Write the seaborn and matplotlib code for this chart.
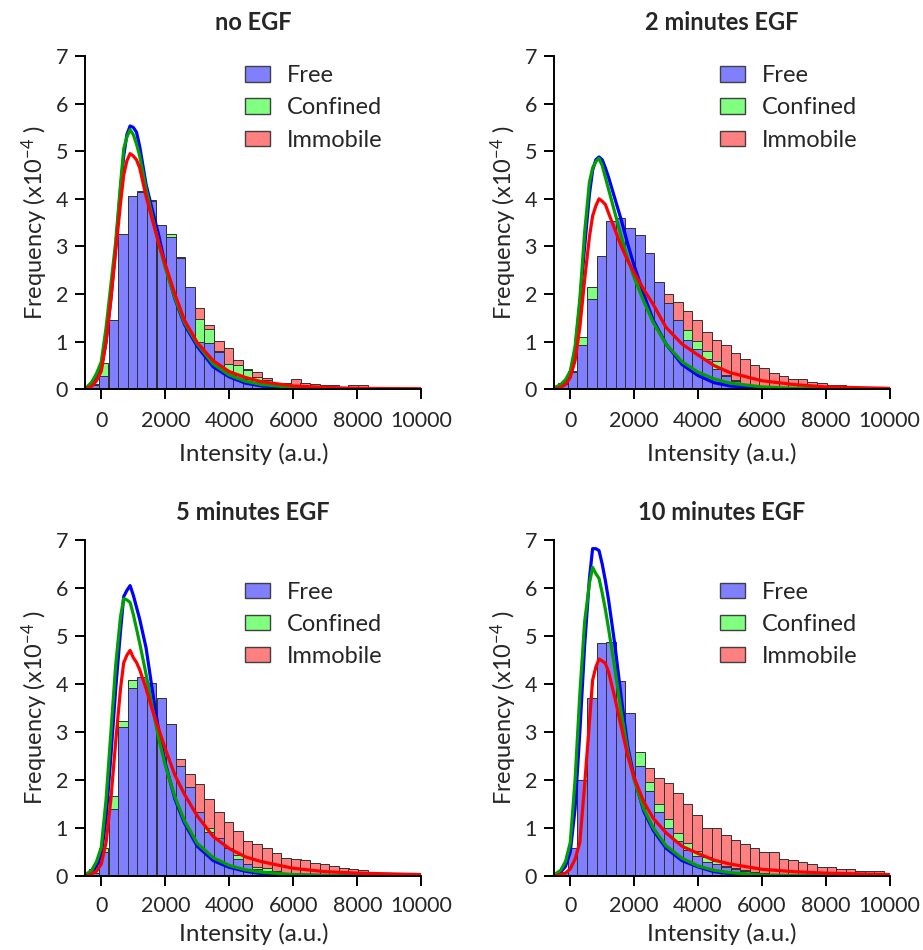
import numpy as np
import pandas as pd
import matplotlib
matplotlib.use("Agg")
import matplotlib.pyplot as plt
import seaborn as sns
from matplotlib.patches import Patch

# ---------------- data ----------------
titles = ["no EGF", "2 minutes EGF", "5 minutes EGF", "10 minutes EGF"]
series = ["Free", "Confined", "Immobile"]

# histogram bins (width 300)
bin_edges = [-375 + 300 * k for k in range(35)]
bin_centers = [-225 + 300 * k for k in range(34)]

# histogram heights (x10^-4), one list per panel and population
free_noegf = [0.10, 0.28, 1.45, 3.27, 4.07, 4.15, 3.95, 3.45, 3.20, 2.75, 2.14, 0.99, 0.97, 0.79, 0.38, 0.31, 0.21,
              0.15, 0.10, 0.12, 0.12, 0.06, 0.05, 0.04, 0.03, 0.03, 0.02, 0.02, 0.01, 0.01, 0.01, 0.01, 0.005, 0.005]
conf_noegf = [0.12, 0.56, 1.30, 3.00, 3.90, 4.10, 3.80, 3.40, 3.26, 2.77, 2.00, 1.48, 1.27, 0.80, 0.54, 0.50, 0.40,
              0.26, 0.20, 0.10, 0.08, 0.06, 0.05, 0.04, 0.03, 0.03, 0.02, 0.02, 0.01, 0.01, 0.01, 0.01, 0.005, 0.005]
immo_noegf = [0.05, 0.20, 1.20, 3.00, 3.90, 4.17, 3.97, 3.30, 3.00, 2.60, 2.00, 1.71, 1.34, 1.01, 0.87, 0.61, 0.42,
              0.36, 0.24, 0.14, 0.14, 0.22, 0.14, 0.12, 0.10, 0.09, 0.05, 0.08, 0.08, 0.05, 0.04, 0.03, 0.02, 0.02]

free_2min = [0.12, 0.36, 0.92, 1.89, 2.81, 3.54, 3.60, 3.38, 3.24, 2.86, 2.26, 1.81, 1.46, 1.04, 0.84, 0.64, 0.42,
             0.28, 0.17, 0.10, 0.07, 0.05, 0.04, 0.03, 0.02, 0.02, 0.01, 0.01, 0.01, 0.01, 0.01, 0.01, 0.01, 0.01]
conf_2min = [0.14, 0.38, 1.10, 2.14, 2.70, 3.40, 3.50, 3.30, 3.10, 2.70, 2.10, 1.70, 1.40, 1.24, 1.01, 0.80, 0.59,
             0.31, 0.20, 0.12, 0.08, 0.05, 0.04, 0.03, 0.02, 0.02, 0.01, 0.01, 0.01, 0.01, 0.01, 0.01, 0.01, 0.01]
immo_2min = [0.05, 0.20, 0.70, 1.50, 2.30, 2.90, 3.10, 3.00, 2.90, 2.60, 2.20, 2.00, 1.84, 1.64, 1.45, 1.20, 1.03,
             0.92, 0.77, 0.64, 0.50, 0.44, 0.35, 0.28, 0.22, 0.21, 0.16, 0.14, 0.10, 0.09, 0.07, 0.05, 0.04, 0.03]

free_5min = [0.07, 0.50, 1.40, 3.10, 3.91, 4.15, 4.03, 3.70, 3.16, 2.29, 1.86, 1.34, 0.92, 0.80, 0.58, 0.36, 0.26,
             0.14, 0.10, 0.07, 0.05, 0.04, 0.03, 0.02, 0.02, 0.01, 0.01, 0.01, 0.01, 0.01, 0.01, 0.01, 0.01, 0.01]
conf_5min = [0.14, 0.58, 1.67, 3.22, 4.08, 4.00, 3.90, 3.50, 3.00, 2.20, 1.80, 1.30, 1.00, 0.78, 0.56, 0.44, 0.25,
             0.19, 0.16, 0.10, 0.07, 0.05, 0.04, 0.03, 0.02, 0.02, 0.01, 0.01, 0.01, 0.01, 0.01, 0.01, 0.01, 0.01]
immo_5min = [0.03, 0.30, 1.00, 2.50, 3.40, 3.60, 3.50, 3.20, 2.80, 2.43, 2.12, 1.91, 1.60, 1.33, 1.13, 0.94, 0.72,
             0.67, 0.58, 0.47, 0.37, 0.36, 0.33, 0.28, 0.24, 0.21, 0.16, 0.14, 0.13, 0.09, 0.07, 0.05, 0.04, 0.03]

free_10min = [0.09, 0.58, 2.00, 3.70, 4.85, 4.88, 4.07, 3.40, 2.29, 1.78, 1.34, 0.99, 0.72, 0.54, 0.42, 0.30, 0.26,
              0.18, 0.14, 0.11, 0.08, 0.06, 0.05, 0.04, 0.03, 0.02, 0.02, 0.01, 0.01, 0.01, 0.01, 0.01, 0.01, 0.01]
conf_10min = [0.08, 0.50, 1.90, 3.50, 4.60, 4.70, 3.90, 3.30, 2.59, 1.96, 1.51, 1.18, 0.89, 0.68, 0.53, 0.39, 0.32,
              0.21, 0.16, 0.12, 0.09, 0.07, 0.05, 0.04, 0.03, 0.02, 0.02, 0.01, 0.01, 0.01, 0.01, 0.01, 0.01, 0.01]
immo_10min = [0.02, 0.15, 0.90, 2.40, 3.50, 3.60, 3.30, 2.80, 2.40, 2.24, 2.05, 1.93, 1.72, 1.49, 1.28, 0.99, 0.99,
              0.85, 0.74, 0.67, 0.58, 0.51, 0.49, 0.35, 0.33, 0.30, 0.24, 0.19, 0.19, 0.15, 0.14, 0.11, 0.10, 0.11]

# fitted curves (x10^-4), sampled at curve_x
curve_x = [-450, -300, -150, 0, 150, 300, 450, 600, 700, 800, 900, 1000, 1100, 1200, 1400, 1600, 1800, 2000,
           2300, 2600, 3000, 3500, 4000, 4500, 5000, 6000, 7000, 8000, 10000]

fit_free_noegf = [0.03, 0.10, 0.25, 0.45, 1.00, 1.90, 3.00, 4.20, 4.90, 5.35, 5.53, 5.50, 5.40, 5.10, 4.30, 3.75, 3.22,
                  2.60, 1.90, 1.36, 0.90, 0.47, 0.26, 0.13, 0.07, 0.02, 0.01, 0.0, 0.0]
fit_conf_noegf = [0.05, 0.15, 0.33, 0.58, 1.30, 2.20, 3.10, 4.30, 5.05, 5.30, 5.45, 5.35, 5.15, 4.90, 4.20, 3.60, 3.05,
                  2.55, 1.92, 1.40, 0.95, 0.53, 0.30, 0.17, 0.10, 0.04, 0.02, 0.01, 0.0]
fit_immo_noegf = [0.02, 0.06, 0.18, 0.38, 1.00, 1.90, 2.90, 3.90, 4.50, 4.80, 4.95, 4.90, 4.82, 4.65, 4.05, 3.55, 3.05,
                  2.62, 2.00, 1.45, 0.98, 0.60, 0.37, 0.25, 0.16, 0.07, 0.04, 0.02, 0.01]

fit_free_2min = [0.03, 0.06, 0.12, 0.30, 0.80, 1.80, 3.00, 4.10, 4.60, 4.82, 4.88, 4.82, 4.65, 4.45, 4.00, 3.55, 3.05,
                 2.60, 2.00, 1.45, 0.95, 0.52, 0.29, 0.14, 0.07, 0.02, 0.01, 0.0, 0.0]
fit_conf_2min = [0.05, 0.10, 0.20, 0.38, 0.90, 1.90, 3.30, 4.35, 4.65, 4.78, 4.85, 4.70, 4.45, 4.20, 3.70, 3.20, 2.75,
                 2.35, 1.85, 1.40, 0.95, 0.58, 0.36, 0.22, 0.13, 0.05, 0.02, 0.01, 0.0]
fit_immo_2min = [0.01, 0.04, 0.10, 0.25, 0.60, 1.30, 2.30, 3.20, 3.64, 3.85, 4.00, 3.95, 3.88, 3.70, 3.35, 3.00, 2.70,
                 2.45, 2.10, 1.78, 1.30, 0.95, 0.72, 0.50, 0.35, 0.18, 0.10, 0.05, 0.02]

fit_free_5min = [0.03, 0.08, 0.20, 0.45, 1.20, 2.50, 3.90, 5.10, 5.82, 5.95, 6.05, 5.85, 5.60, 5.35, 4.75, 3.85, 3.00,
                 2.35, 1.60, 1.10, 0.62, 0.32, 0.18, 0.10, 0.05, 0.02, 0.01, 0.0, 0.0]
fit_conf_5min = [0.05, 0.12, 0.30, 0.60, 1.60, 3.00, 4.40, 5.40, 5.78, 5.75, 5.70, 5.45, 5.15, 4.85, 4.20, 3.50, 2.85,
                 2.30, 1.65, 1.15, 0.68, 0.38, 0.22, 0.13, 0.08, 0.03, 0.01, 0.0, 0.0]
fit_immo_5min = [0.01, 0.04, 0.10, 0.25, 0.70, 1.60, 2.80, 3.90, 4.44, 4.60, 4.70, 4.55, 4.45, 4.30, 3.90, 3.45, 3.05,
                 2.65, 2.10, 1.70, 1.25, 0.82, 0.57, 0.40, 0.30, 0.16, 0.09, 0.06, 0.03]

fit_free_10min = [0.03, 0.08, 0.20, 0.50, 1.40, 3.00, 4.80, 6.20, 6.82, 6.82, 6.78, 6.50, 6.15, 5.75, 4.80, 3.70, 2.70,
                  2.05, 1.35, 0.95, 0.58, 0.32, 0.19, 0.09, 0.05, 0.01, 0.0, 0.0, 0.0]
fit_conf_10min = [0.05, 0.12, 0.30, 0.70, 2.00, 3.80, 5.30, 6.10, 6.43, 6.30, 6.20, 5.90, 5.55, 5.15, 4.30, 3.40, 2.60,
                  2.00, 1.40, 1.00, 0.63, 0.37, 0.21, 0.12, 0.07, 0.02, 0.01, 0.0, 0.0]
fit_immo_10min = [0.01, 0.03, 0.06, 0.15, 0.35, 0.70, 1.90, 3.20, 4.08, 4.35, 4.52, 4.48, 4.43, 4.25, 3.70, 3.10, 2.50,
                  2.05, 1.55, 1.20, 0.90, 0.62, 0.47, 0.33, 0.25, 0.14, 0.09, 0.06, 0.03]

xticks = [0, 2000, 4000, 6000, 8000, 10000]
yticks = [0, 1, 2, 3, 4, 5, 6, 7]

hist_data = [
    (free_noegf, conf_noegf, immo_noegf),
    (free_2min, conf_2min, immo_2min),
    (free_5min, conf_5min, immo_5min),
    (free_10min, conf_10min, immo_10min),
]
fit_data = [
    (fit_free_noegf, fit_conf_noegf, fit_immo_noegf),
    (fit_free_2min, fit_conf_2min, fit_immo_2min),
    (fit_free_5min, fit_conf_5min, fit_immo_5min),
    (fit_free_10min, fit_conf_10min, fit_immo_10min),
]

# ---------------- style ----------------
sns.set_style("ticks")
FONT = ["Lato", "DejaVu Sans"]
plt.rcParams["font.family"] = FONT
plt.rcParams["mathtext.fontset"] = "custom"
plt.rcParams["mathtext.rm"] = "Lato"
plt.rcParams["mathtext.it"] = "Lato:italic"
plt.rcParams["mathtext.bf"] = "Lato:bold"

bar_colors = {"Free": "#8080FF", "Confined": "#80FF80", "Immobile": "#FF8080"}
line_colors = {"Free": "#0000FF", "Confined": "#00A000", "Immobile": "#FF0000"}

W, H = 923, 950
fig = plt.figure(figsize=(W / 100, H / 100), dpi=100)

# axes rectangles in pixels: left, top(7), right(10000), bottom(0)
rects = [
    (85.3, 56, 421.3, 389.3),
    (554.3, 56, 889.6, 389.3),
    (85.3, 540, 421.3, 876),
    (554.3, 540, 889.6, 876),
]
legend_anchor = [(0.475, 0.972), (0.494, 0.972), (0.475, 0.876), (0.494, 0.876)]
title_y = [22, 22, 513, 513]
xtick_pad = [8, 8, 7, 7]
xlabel_pad = [9, 9, 5, 5]

for i, (l, t, r, b) in enumerate(rects):
    ax = fig.add_axes([l / W, 1 - b / H, (r - l) / W, (b - t) / H])
    free_h, conf_h, immo_h = hist_data[i]
    # back to front: Immobile, Confined, Free
    for name, vals in (("Immobile", immo_h), ("Confined", conf_h), ("Free", free_h)):
        sns.histplot(x=bin_centers, weights=vals, bins=bin_edges, color=bar_colors[name],
                     alpha=1.0, edgecolor="#303030", linewidth=0.7, ax=ax)
    ff, fc, fi = fit_data[i]
    for name, vals in (("Free", ff), ("Confined", fc), ("Immobile", fi)):
        sns.lineplot(x=curve_x, y=vals, color=line_colors[name], linewidth=2.3, ax=ax)

    ax.set_xlim(-500, 10000)
    ax.set_ylim(0, 7)
    ax.set_xticks(xticks)
    ax.set_xticklabels([str(v) for v in xticks])
    ax.set_yticks(yticks)
    ax.set_yticklabels([str(v) for v in yticks])
    ax.tick_params(axis="both", direction="out", length=7.5, width=1.4, labelsize=15.5, pad=5, color="black")
    ax.tick_params(axis="x", pad=xtick_pad[i])
    for s in ("top", "right"):
        ax.spines[s].set_visible(False)
    for s in ("left", "bottom"):
        ax.spines[s].set_linewidth(1.4)
        ax.spines[s].set_color("black")
    ax.set_xlabel("Intensity (a.u.)", fontsize=17.5, labelpad=xlabel_pad[i])
    ax.set_ylabel("Frequency (x10$^{-4}$ )", fontsize=17)
    ax.yaxis.set_label_coords(-0.105, 0.5)

    handles = [Patch(facecolor=bar_colors[n], edgecolor="#404040", linewidth=1.0, label=n) for n in series]
    ax.legend(handles=handles, loc="upper left", bbox_to_anchor=legend_anchor[i], frameon=False,
              fontsize=17, handlelength=1.05, handleheight=0.62, handletextpad=0.72,
              labelspacing=0.47, borderpad=0, borderaxespad=0)

    fig.text(((l + r) / 2) / W, 1 - title_y[i] / H, titles[i], ha="center", va="center",
             fontsize=17, fontweight="bold")

fig.savefig("out.png", dpi=100)
